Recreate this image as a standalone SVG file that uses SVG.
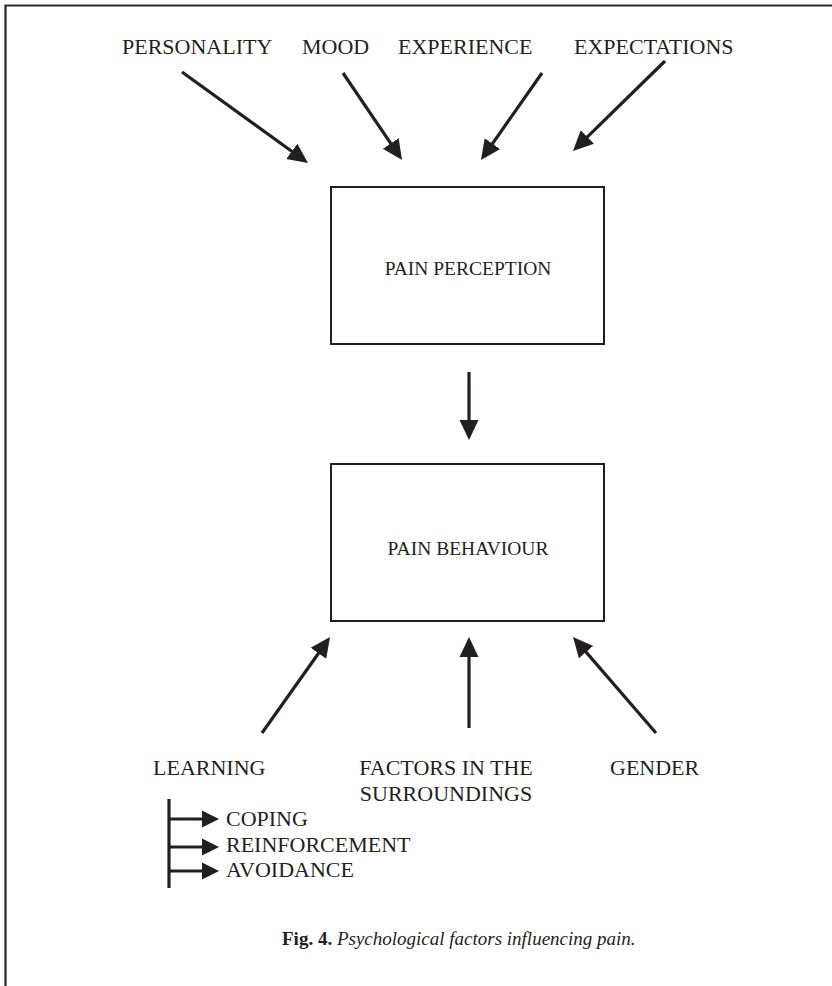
<svg xmlns="http://www.w3.org/2000/svg" width="832" height="986" viewBox="0 0 832 986">
<style>
.t{font-family:"Liberation Serif","Times New Roman",serif;font-size:22px;fill:#231f20}
.b{font-family:"Liberation Serif","Times New Roman",serif;font-size:19.5px;fill:#231f20;text-anchor:middle}
.box{fill:#fff;stroke:#231f20;stroke-width:2}
.c line{stroke:#231f20;stroke-width:3.2;fill:none}
.a{marker-end:url(#ah)}
.s{marker-end:url(#sh)}
.cap{font-family:"Liberation Serif","Times New Roman",serif;font-size:19px;fill:#231f20}
</style>
<defs>
<marker id="ah" markerUnits="userSpaceOnUse" markerWidth="24" markerHeight="22" refX="2" refY="0" viewBox="0 -11 24 22" orient="auto"><path d="M0,-9.5 L20,0 L0,9.5 z" fill="#231f20"/></marker>
<marker id="sh" markerUnits="userSpaceOnUse" markerWidth="24" markerHeight="20" refX="2" refY="0" viewBox="0 -10 24 20" orient="auto"><path d="M0,-8.5 L17,0 L0,8.5 z" fill="#231f20"/></marker>
</defs>
<rect width="832" height="986" fill="#fff"/>
<g id="frame" stroke="#2a2a2a" stroke-width="2.2" fill="none"><path d="M5.5,986 V5.5 H832"/></g>
<g id="personality"><text class="t" x="122" y="54">PERSONALITY</text></g>
<g id="mood"><text class="t" x="302" y="54">MOOD</text></g>
<g id="experience"><text class="t" x="398" y="54">EXPERIENCE</text></g>
<g id="expectations"><text class="t" x="574" y="54">EXPECTATIONS</text></g>
<g id="pain-perception"><rect class="box" x="331" y="187" width="273" height="157"/><text class="b" x="468" y="275">PAIN PERCEPTION</text></g>
<g id="pain-behaviour"><rect class="box" x="331" y="464" width="273" height="157"/><text class="b" x="468" y="555">PAIN BEHAVIOUR</text></g>
<g id="learning"><text class="t" x="153" y="775">LEARNING</text></g>
<g id="surroundings"><text class="t" x="446" y="775" text-anchor="middle">FACTORS IN THE</text><text class="t" x="446" y="801" text-anchor="middle">SURROUNDINGS</text></g>
<g id="gender"><text class="t" x="610" y="775">GENDER</text></g>
<g id="coping"><text class="t" x="226" y="826">COPING</text></g>
<g id="reinforcement"><text class="t" x="226" y="852">REINFORCEMENT</text></g>
<g id="avoidance"><text class="t" x="226" y="877">AVOIDANCE</text></g>
<g id="connectors" class="c">
<line class="a" x1="182" y1="72" x2="293.4" y2="152.5"/>
<line class="a" x1="343" y1="73" x2="391.9" y2="145.1"/>
<line class="a" x1="542" y1="73" x2="491.3" y2="145.3"/>
<line class="a" x1="665" y1="61" x2="585.9" y2="138.4"/>
<line class="a" x1="469" y1="372" x2="469" y2="422"/>
<line class="a" x1="262" y1="733" x2="319.6" y2="651.7"/>
<line class="a" x1="469" y1="728" x2="469" y2="655"/>
<line class="a" x1="656" y1="733" x2="584.8" y2="650.6"/>
<line x1="169" y1="799" x2="169" y2="888"/>
<line class="s" x1="169" y1="819" x2="204" y2="819"/>
<line class="s" x1="169" y1="847" x2="204" y2="847"/>
<line class="s" x1="169" y1="871" x2="204" y2="871"/>
</g>
<g id="caption"><text class="cap" x="282" y="945"><tspan font-weight="bold">Fig. 4.</tspan> <tspan font-style="italic">Psychological factors influencing pain.</tspan></text></g>
</svg>
